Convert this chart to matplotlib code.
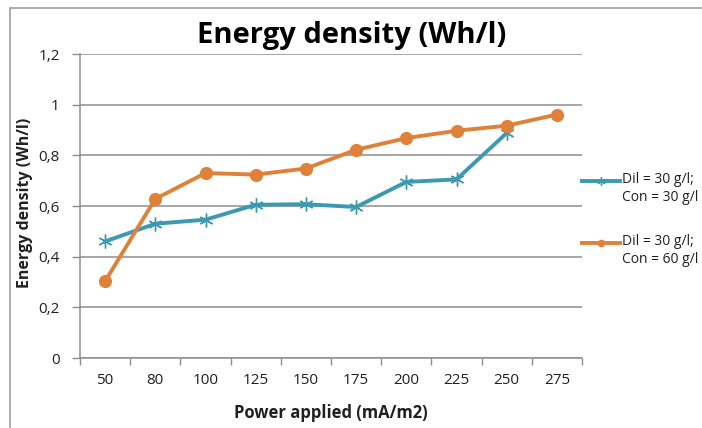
import matplotlib
matplotlib.use("Agg")
import matplotlib.pyplot as plt
from matplotlib.lines import Line2D
from matplotlib.patches import Rectangle

# Data
power_applied = ["50", "80", "100", "125", "150", "175", "200", "225", "250", "275"]
series_30_30 = [0.46, 0.53, 0.546, 0.605, 0.607, 0.596, 0.695, 0.705, 0.888]
series_30_60 = [0.303, 0.628, 0.730, 0.724, 0.748, 0.822, 0.868, 0.897, 0.917, 0.961]
label_30_30 = "Dil = 30 g/l;\nCon = 30 g/l"
label_30_60 = "Dil = 30 g/l;\nCon = 60 g/l"
y_ticks = [0, 0.2, 0.4, 0.6, 0.8, 1.0, 1.2]
y_tick_labels = ["0", "0,2", "0,4", "0,6", "0,8", "1", "1,2"]

BLUE = "#3B99B1"
ORANGE = "#E0813A"
GRID = "#8E8E8E"
FONT = ["Open Sans", "DejaVu Sans"]

plt.rcParams["font.family"] = FONT

W, H = 702, 428
fig = plt.figure(figsize=(W / 100, H / 100), dpi=100)
fig.patch.set_facecolor("white")

# outer chart frame
fig.add_artist(Rectangle((10 / W, -0.05), 1.1, (H - 8) / H + 0.05,
                         transform=fig.transFigure, fill=False,
                         edgecolor="#A6A6A6", linewidth=1.3))

ax = fig.add_axes([80 / W, (H - 358) / H, (582 - 80) / W, (358 - 54) / H])

x_blue = list(range(len(series_30_30)))
x_orange = list(range(len(series_30_60)))

ax.plot(x_blue, series_30_30, color=BLUE, linewidth=2.8,
        marker=(6, 2, 0), markersize=10, markeredgewidth=1.0,
        markeredgecolor=BLUE, zorder=3)
ax.plot(x_orange, series_30_60, color=ORANGE, linewidth=2.8,
        marker="o", markersize=9.5, markeredgewidth=0,
        markerfacecolor=ORANGE, zorder=4)

ax.set_xlim(-0.5, len(power_applied) - 0.5)
ax.set_ylim(0, 1.2)

# category axis: ticks between categories, labels centred
ax.set_xticks([i - 0.5 for i in range(len(power_applied) + 1)])
ax.set_xticklabels([])
ax.set_xticks(range(len(power_applied)), minor=True)
ax.set_xticklabels(power_applied, minor=True)
ax.tick_params(axis="x", which="major", length=5, width=1, color=GRID,
               direction="out")
ax.tick_params(axis="x", which="minor", length=0, pad=11, labelsize=11,
               labelcolor="#202020")

ax.set_yticks(y_ticks)
ax.set_yticklabels(y_tick_labels)
ax.tick_params(axis="y", length=5.5, width=1, color=GRID, direction="out",
               pad=9, labelsize=11, labelcolor="#202020")

ax.grid(axis="y", color=GRID, linewidth=1.1)
ax.set_axisbelow(True)
for side in ("top", "right"):
    ax.spines[side].set_visible(False)
for side in ("left", "bottom"):
    ax.spines[side].set_color(GRID)
    ax.spines[side].set_linewidth(1.1)

ax.set_xlabel("Power applied (mA/m2)", fontsize=12, fontweight="bold",
              labelpad=11, color="#202020")
ax.set_ylabel("Energy density (Wh/l)", fontsize=11.5, fontweight="bold",
              color="#202020")
ax.yaxis.label.set_verticalalignment("center")
ax.yaxis.set_label_coords(25 / W, 1 - 203 / H, transform=fig.transFigure)

fig.text(352 / W, 1 - 36 / H, "Energy density (Wh/l)", ha="center",
         va="center", fontsize=21, fontweight="bold", color="black")

# legend, drawn in figure space with the marker beside the first text line
def legend_entry(y_px, color, marker, msize, mew, label):
    y = 1 - y_px / H
    fig.add_artist(Line2D([582 / W, 620 / W], [y, y], transform=fig.transFigure,
                          color=color, linewidth=2.8))
    fig.add_artist(Line2D([601 / W], [y], transform=fig.transFigure,
                          color=color, marker=marker, markersize=msize,
                          markeredgewidth=mew, markeredgecolor=color,
                          markerfacecolor=color, linestyle="none"))
    fig.text(622 / W, 1 - (y_px - 9) / H, label, ha="left", va="top",
             fontsize=10, color="#202020", linespacing=1.25)

legend_entry(181, BLUE, (6, 2, 0), 6, 1.0, label_30_30)
legend_entry(243, ORANGE, "o", 5.5, 0, label_30_60)

fig.savefig("out.png", dpi=100)
